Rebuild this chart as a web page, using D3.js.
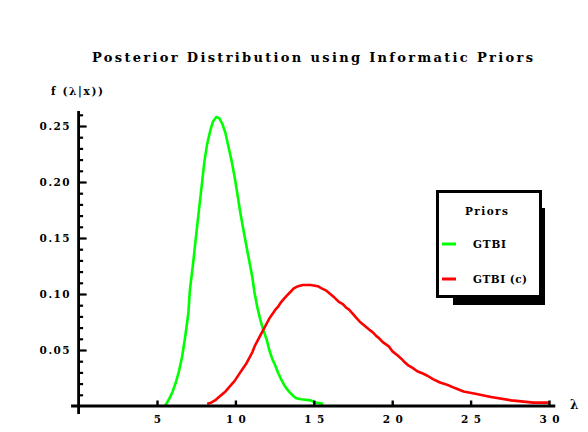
<!DOCTYPE html>
<html>
<head>
<meta charset="utf-8">
<script src="https://cdn.jsdelivr.net/npm/d3@7"></script>
<style>
  html, body { margin: 0; padding: 0; background: #fff; }
  svg { display: block; }
  text { font-family: "DejaVu Serif", "Liberation Serif", serif; font-weight: bold; fill: #000; }
</style>
</head>
<body>
<svg id="chart" width="588" height="432"></svg>
<script>
// Posterior density of lambda under the GTBI prior
const gtbiLambda = [5.5, 5.6, 5.8, 6.0, 6.2, 6.4, 6.6, 6.8, 7.0, 7.1, 7.3, 7.5, 7.7, 7.87, 8.02, 8.2, 8.4, 8.57, 8.78, 8.97,
  9.16, 9.36, 9.55, 9.74, 9.93, 10.12, 10.31, 10.5, 10.7, 10.89, 11.08, 11.21, 11.4, 11.59, 11.78, 12.0, 12.16, 12.35,
  12.55, 12.74, 12.91, 13.1, 13.29, 13.48, 13.69, 13.88, 14.2, 14.8, 15.1, 15.6];
const gtbiDensity = [0.000, 0.002, 0.007, 0.013, 0.021, 0.031, 0.044, 0.062, 0.083, 0.104, 0.127, 0.153, 0.178, 0.199, 0.218, 0.234, 0.246, 0.254, 0.258, 0.257,
  0.252, 0.244, 0.232, 0.220, 0.206, 0.190, 0.173, 0.158, 0.143, 0.129, 0.115, 0.102, 0.088, 0.077, 0.068, 0.059, 0.050, 0.042,
  0.036, 0.029, 0.024, 0.019, 0.015, 0.012, 0.009, 0.007, 0.006, 0.005, 0.003, 0.002];

// Posterior density of lambda under the GTBI (c) prior
const gtbiCLambda = [8.2, 8.45, 8.7, 8.95, 9.2, 9.37, 9.55, 9.74, 9.93, 10.12, 10.31, 10.5, 10.7, 10.89, 11.08, 11.25, 11.4, 11.59,
  11.78, 11.97, 12.16, 12.35, 12.55, 12.74, 12.93, 13.12, 13.31, 13.52, 13.72, 14.0, 14.3, 14.8, 15.25, 15.5, 15.8, 16.05,
  16.3, 16.6, 16.85, 17.05, 17.25, 17.45, 17.7, 17.95, 18.3, 18.55, 18.75, 18.95, 19.2, 19.4, 19.6, 19.8, 20.0, 20.35,
  20.6, 20.8, 21.05, 21.3, 21.6, 21.95, 22.25, 22.6, 23.05, 23.5, 24.0, 24.55, 25.3, 26.3, 27.6, 29.0, 30.0];
const gtbiCDensity = [0.002, 0.003, 0.005, 0.008, 0.011, 0.013, 0.016, 0.019, 0.022, 0.026, 0.030, 0.034, 0.038, 0.043, 0.048, 0.054, 0.058, 0.063,
  0.068, 0.073, 0.078, 0.082, 0.086, 0.089, 0.093, 0.096, 0.099, 0.102, 0.105, 0.107, 0.108, 0.108, 0.107, 0.105, 0.103, 0.100,
  0.097, 0.093, 0.091, 0.088, 0.086, 0.083, 0.079, 0.075, 0.071, 0.068, 0.066, 0.063, 0.060, 0.057, 0.055, 0.053, 0.049, 0.045,
  0.042, 0.039, 0.036, 0.034, 0.031, 0.029, 0.027, 0.024, 0.021, 0.019, 0.016, 0.013, 0.011, 0.008, 0.005, 0.003, 0.003];

const xTicks = [5, 10, 15, 20, 25, 30];
const yTicks = [0.05, 0.10, 0.15, 0.20, 0.25];
const yMinorTicks = d3.range(1, 27).map(i => i / 100).filter(v => !yTicks.some(t => Math.abs(t - v) < 1e-9));

const seriesNames = ["GTBI", "GTBI (c)"];
const seriesColors = ["#00ff00", "#ff0000"];

const svg = d3.select("#chart");

const x = d3.scaleLinear().domain([0, 30]).range([78.6, 549]);
const y = d3.scaleLinear().domain([0, 0.25]).range([406, 126]);

// Title
svg.append("text")
  .attr("x", 92).attr("y", 62)
  .attr("font-size", 13)
  .attr("textLength", 441).attr("lengthAdjust", "spacing")
  .text("Posterior Distribution using Informatic Priors");

// Axis labels
svg.append("text")
  .attr("x", 51).attr("y", 95)
  .attr("font-size", 10.5)
  .attr("textLength", 52).attr("lengthAdjust", "spacing")
  .text("f (λ|x))");
svg.append("text")
  .attr("x", 570).attr("y", 409)
  .attr("font-size", 12)
  .text("λ");

// Curves
const line = d3.line().x(d => x(d[0])).y(d => y(d[1]));
const series = [
  d3.zip(gtbiLambda, gtbiDensity),
  d3.zip(gtbiCLambda, gtbiCDensity)
];
series.forEach((pts, i) => {
  svg.append("path")
    .datum(pts)
    .attr("d", line)
    .attr("fill", "none")
    .attr("stroke", seriesColors[i])
    .attr("stroke-width", 2.6)
    .attr("stroke-linejoin", "round");
});

// Axes lines
svg.append("line")
  .attr("x1", x(0)).attr("x2", x(0))
  .attr("y1", y(-0.0072)).attr("y2", y(0.2634))
  .attr("stroke", "#000").attr("stroke-width", 2.8);
svg.append("line")
  .attr("x1", x(-0.48)).attr("x2", x(30.4))
  .attr("y1", y(0)).attr("y2", y(0))
  .attr("stroke", "#000").attr("stroke-width", 2.8);

// Y axis: major ticks with labels, minor ticks inward
const yAxis = svg.append("g")
  .attr("transform", `translate(${x(0)},0)`)
  .call(d3.axisLeft(y).tickValues(yTicks).tickSize(-8).tickPadding(9).tickFormat(d3.format(".2f")));
yAxis.select(".domain").remove();
yAxis.selectAll(".tick line").attr("stroke", "#000").attr("stroke-width", 2.2);
yAxis.selectAll(".tick text")
  .attr("font-size", 10.5).attr("font-family", null)
  .attr("textLength", 30).attr("lengthAdjust", "spacing")
  .attr("dy", "0.36em");

const yMinor = svg.append("g")
  .attr("transform", `translate(${x(0)},0)`)
  .call(d3.axisLeft(y).tickValues(yMinorTicks).tickSize(-4.5).tickFormat(""));
yMinor.select(".domain").remove();
yMinor.selectAll(".tick line").attr("stroke", "#000").attr("stroke-width", 2.2);

// X axis: major ticks inward with labels below
const xAxis = svg.append("g")
  .attr("transform", `translate(0,${y(0)})`)
  .call(d3.axisBottom(x).tickValues(xTicks).tickSize(-5.5).tickPadding(10).tickFormat(d3.format("d")));
xAxis.select(".domain").remove();
xAxis.selectAll(".tick line").attr("stroke", "#000").attr("stroke-width", 2.4);
xAxis.selectAll(".tick text")
  .attr("font-size", 10.5).attr("font-family", null)
  .each(function (d) {
    const s = String(d);
    d3.select(this).attr("textLength", s.length > 1 ? 20 : 8).attr("lengthAdjust", "spacing");
  });

// Legend with drop shadow
const legend = svg.append("g");
legend.append("rect").attr("x", 453).attr("y", 208).attr("width", 92).attr("height", 97).attr("fill", "#000");
legend.append("rect").attr("x", 437.5).attr("y", 191.5).attr("width", 103).attr("height", 105)
  .attr("fill", "#fff").attr("stroke", "#000").attr("stroke-width", 3);
legend.append("text")
  .attr("x", 465).attr("y", 215)
  .attr("font-size", 10.5)
  .attr("textLength", 43).attr("lengthAdjust", "spacing")
  .text("Priors");
const legendY = [244, 279];
seriesNames.forEach((name, i) => {
  legend.append("line")
    .attr("x1", 442).attr("x2", 456)
    .attr("y1", legendY[i]).attr("y2", legendY[i])
    .attr("stroke", seriesColors[i]).attr("stroke-width", 3);
  legend.append("text")
    .attr("x", 473).attr("y", legendY[i] + 4)
    .attr("font-size", 10.5)
    .attr("textLength", name.length > 4 ? 54 : 33).attr("lengthAdjust", "spacing")
    .text(name);
});
</script>
</body>
</html>
